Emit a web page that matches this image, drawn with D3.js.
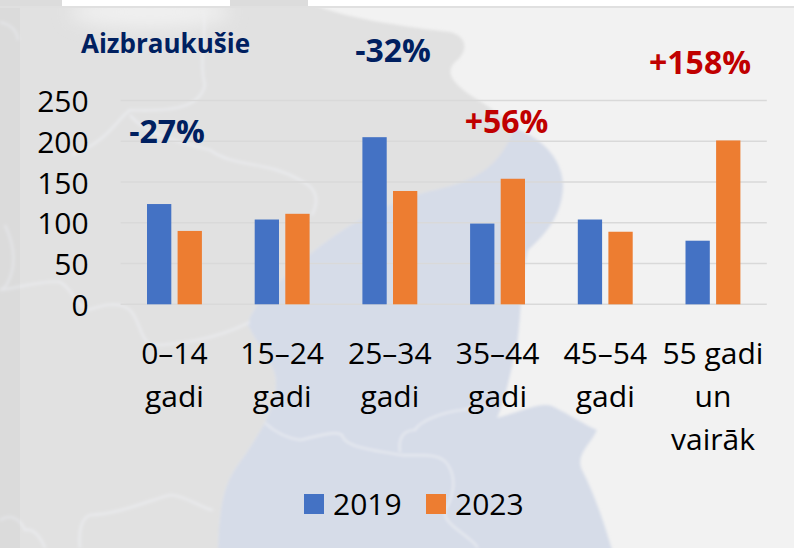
<!DOCTYPE html>
<html>
<head>
<meta charset="utf-8">
<script src="https://cdnjs.cloudflare.com/ajax/libs/d3/7.8.5/d3.min.js"></script>
<style>
  html, body { margin: 0; padding: 0; background: #fff; }
  svg { display: block; font-family: "Open Sans", sans-serif; }
  .tick text { fill: #000; }
</style>
</head>
<body>
<div id="chart"></div>
<script>
// values
var ageGroups = ["0–14 gadi", "15–24 gadi", "25–34 gadi", "35–44 gadi", "45–54 gadi", "55 gadi un vairāk"];
var ageLines = [["0–14", "gadi"], ["15–24", "gadi"], ["25–34", "gadi"], ["35–44", "gadi"], ["45–54", "gadi"], ["55 gadi", "un", "vairāk"]];
var values2019 = [123, 104, 205, 99, 104, 78];
var values2023 = [90, 111, 139, 154, 89, 201];
var yTicks = [0, 50, 100, 150, 200, 250];
var changeLabels = ["-27%", "-32%", "+56%", "+158%"];

var svgWidth = 794;
var svgHeight = 548;

var margin = { top: 100.5, right: 27.2, bottom: 243.7, left: 120.6 };
var width = svgWidth - margin.left - margin.right;
var height = svgHeight - margin.top - margin.bottom;

var svg = d3.select("#chart")
  .append("svg")
  .attr("width", svgWidth)
  .attr("height", svgHeight);

// soft edges for the faded map
var defs = svg.append("defs");
var blur = defs.append("filter").attr("id", "soft")
  .attr("x", "-5%").attr("y", "-5%").attr("width", "110%").attr("height", "110%");
blur.append("feGaussianBlur").attr("stdDeviation", 1.6);
var wideBlur = defs.append("filter").attr("id", "wide")
  .attr("x", "-30%").attr("y", "-60%").attr("width", "160%").attr("height", "220%");
wideBlur.append("feGaussianBlur").attr("stdDeviation", 9);

// panel behind the chart
svg.append("rect").attr("width", svgWidth).attr("height", svgHeight).attr("fill", "#f2f2f2");

// map shapes are only background decoration
var land = [
  { fill: "#e1e1e1", d: "M-10,-10 L285,-10 C320,15 390,25 450,32 C466,36 470,50 455,62 C445,72 452,82 470,95 C495,110 515,125 530,145 C500,165 480,180 435,190 C390,200 340,225 290,272 C265,295 250,310 248,325 C260,350 276,365 276,382 C276,405 265,425 245,455 C230,475 218,490 218,560 L-10,560 Z" },
  { fill: "#d6dce8", d: "M515,128 C545,140 562,160 563,185 C563,215 545,235 528,250 C520,280 522,310 517,345 C510,375 505,400 497,418 C520,412 540,402 552,406 C570,415 585,425 597,430 C590,445 575,455 582,470 C595,495 605,525 615,560 L218,560 C218,490 230,475 245,455 C265,425 276,405 276,382 C276,365 260,350 248,325 C250,310 265,295 290,272 C340,225 390,200 435,190 C480,180 500,165 515,128 Z" }
];
var borders = [
  "M0,22 C8,24 17,28 18,40",
  "M5,225 C12,240 18,262 8,282 C6,287 2,289 0,290 C20,287 45,280 60,282 C72,288 76,306 88,310 C100,306 118,300 130,310 C140,320 140,340 152,345 C175,345 215,340 250,322",
  "M80,548 C78,530 82,518 90,515 C120,514 150,500 170,495 C185,495 205,510 213,510",
  "M203,10 C208,30 198,60 205,85 C200,105 180,112 130,110 C118,118 110,140 72,155",
  "M130,115 C145,135 190,145 210,150 C235,168 265,160 300,180 C312,186 322,195 312,215",
  "M265,423 C275,432 285,438 300,440 C320,436 335,430 342,435 C345,448 375,450 400,455 C420,456 440,452 448,465 C458,480 452,500 445,510 C442,525 470,535 478,548",
  "M400,452 C398,440 402,430 415,430 C420,420 445,412 462,410 C475,408 485,404 492,405",
  "M0,520 C8,515 18,515 25,530 C32,528 40,535 45,548"
];

var mapGroup = svg.append("g").attr("filter", "url(#soft)");
mapGroup.selectAll(".land")
  .data(land)
  .enter()
  .append("path")
  .attr("class", "land")
  .attr("d", d => d.d)
  .attr("fill", d => d.fill);
mapGroup.selectAll(".border")
  .data(borders)
  .enter()
  .append("path")
  .attr("class", "border")
  .attr("d", d => d)
  .attr("fill", "none")
  .attr("stroke", "#eceef1")
  .attr("stroke-width", 2.2)
  .attr("stroke-opacity", 0.8);

// lighter patch along the top of the map
svg.append("ellipse")
  .attr("cx", 150).attr("cy", 12).attr("rx", 80).attr("ry", 16)
  .attr("fill", "#f0f0f0").attr("filter", "url(#wide)");

// outer edge: slightly darker strip on the left, white strip on top
svg.append("rect").attr("y", 8).attr("width", 20).attr("height", svgHeight - 8).attr("fill", "#000").attr("opacity", 0.025);
svg.append("rect").attr("width", svgWidth).attr("height", 6).attr("fill", "#fff");
svg.append("rect").attr("width", 62).attr("height", 6).attr("fill", "#dcdcdc");
svg.append("rect").attr("x", 230).attr("width", 78).attr("height", 6).attr("fill", "#dcdcdc");
svg.append("rect").attr("y", 6).attr("width", svgWidth).attr("height", 2).attr("fill", "#e0e0e0");

var chartGroup = svg.append("g")
  .attr("transform", `translate(${margin.left}, ${margin.top})`);

var xScale = d3.scaleBand()
  .domain(ageGroups)
  .range([0, width]);

var yScale = d3.scaleLinear()
  .domain([0, 250])
  .range([height, 0]);

// gridlines
chartGroup.selectAll(".grid")
  .data(yTicks)
  .enter()
  .append("line")
  .attr("class", "grid")
  .attr("x1", 0)
  .attr("x2", width)
  .attr("y1", d => yScale(d))
  .attr("y2", d => yScale(d))
  .attr("stroke", "#d9d9d9")
  .attr("stroke-width", 1.5);

// y axis
var leftAxis = d3.axisLeft(yScale).tickValues(yTicks).tickSize(0).tickPadding(32);
var yAxis = chartGroup.append("g").call(leftAxis);
yAxis.select(".domain").remove();
yAxis.selectAll("text").attr("font-size", 30).attr("font-family", "Open Sans").attr("dy", "0.37em");

// x axis
var bottomAxis = d3.axisBottom(xScale).tickSize(0).tickFormat("");
var xAxis = chartGroup.append("g")
  .attr("transform", `translate(0, ${height})`)
  .call(bottomAxis);
xAxis.select(".domain").remove();
xAxis.selectAll(".tick").each(function(d, i) {
  var label = d3.select(this).select("text")
    .attr("font-size", 30)
    .attr("font-family", "Open Sans")
    .attr("y", 0)
    .attr("dy", null);
  label.text(null);
  ageLines[i].forEach(function(line, j) {
    label.append("tspan")
      .attr("x", 0)
      .attr("y", 60 + j * 43)
      .text(line);
  });
});

// bars
var barWidth = 24.3;
var barGap = 6.3;

function drawBars(values, color, offset) {
  chartGroup.selectAll(".bar" + color.slice(1))
    .data(values)
    .enter()
    .append("rect")
    .attr("class", "bar" + color.slice(1))
    .attr("x", (d, i) => xScale(ageGroups[i]) + xScale.bandwidth() / 2 + offset)
    .attr("y", d => yScale(d))
    .attr("width", barWidth)
    .attr("height", d => height - yScale(d))
    .attr("fill", color);
}
drawBars(values2019, "#4472c4", -barWidth - barGap / 2);
drawBars(values2023, "#ed7d31", barGap / 2);

// title and change labels
svg.append("text")
  .attr("x", 81)
  .attr("y", 53)
  .attr("font-size", 26)
  .attr("font-weight", 700)
  .attr("fill", "#002060")
  .text("Aizbraukušie");

var labelPos = [[167, 143, "#002060"], [393, 62, "#002060"], [506.5, 133, "#c00000"], [700, 74, "#c00000"]];
svg.selectAll(".change")
  .data(changeLabels)
  .enter()
  .append("text")
  .attr("class", "change")
  .attr("x", (d, i) => labelPos[i][0])
  .attr("y", (d, i) => labelPos[i][1])
  .attr("text-anchor", "middle")
  .attr("font-size", 32)
  .attr("font-weight", 700)
  .attr("fill", (d, i) => labelPos[i][2])
  .text(d => d);

// legend
var legendItems = [["2019", "#4472c4", 304], ["2023", "#ed7d31", 426]];
legendItems.forEach(function(item) {
  svg.append("rect")
    .attr("x", item[2])
    .attr("y", 494)
    .attr("width", 20)
    .attr("height", 20)
    .attr("fill", item[1]);
  svg.append("text")
    .attr("x", item[2] + 29)
    .attr("y", 515)
    .attr("font-size", 30)
    .attr("fill", "#000")
    .text(item[0]);
});
</script>
</body>
</html>
